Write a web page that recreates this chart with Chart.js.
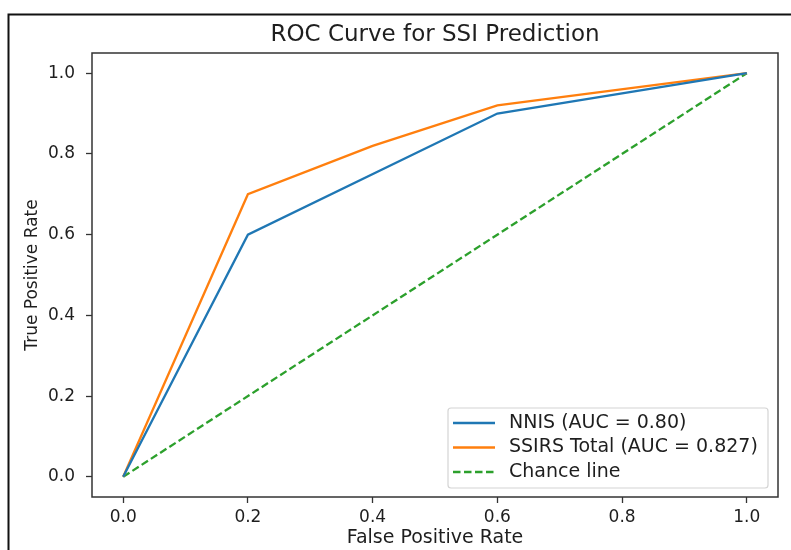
<!DOCTYPE html>
<html>
<head>
<meta charset="utf-8">
<script src="https://cdn.jsdelivr.net/npm/chart.js@4.4.1/dist/chart.umd.min.js"></script>
<style>
  html, body { margin: 0; padding: 0; background: #fff; }
  #wrap { position: relative; width: 791px; height: 550px; }
</style>
</head>
<body>
<div id="wrap"><canvas id="c" width="791" height="550"></canvas></div>
<script>
const titleText = "ROC Curve for SSI Prediction";
const xAxisLabel = "False Positive Rate";
const yAxisLabel = "True Positive Rate";
const tickValues = [0.0, 0.2, 0.4, 0.6, 0.8, 1.0];

const nnisFpr = [0.0, 0.2, 0.6, 1.0];
const nnisTpr = [0.0, 0.6, 0.9, 1.0];
const ssirsFpr = [0.0, 0.2, 0.4, 0.6, 1.0];
const ssirsTpr = [0.0, 0.7, 0.82, 0.92, 1.0];
const chanceFpr = [0.0, 1.0];
const chanceTpr = [0.0, 1.0];

const seriesLabels = ["NNIS (AUC = 0.80)", "SSIRS Total (AUC = 0.827)", "Chance line"];
const seriesColors = ["#1f77b4", "#ff7f0e", "#2ca02c"];

const FONT = "'DejaVu Sans', sans-serif";
const TEXT = "#1e1e1e";

function pts(xs, ys) { return xs.map((x, i) => ({ x: x, y: ys[i] })); }

const framePlugin = {
  id: 'frame',
  beforeDraw(chart) {
    const ctx = chart.ctx;
    ctx.save();
    ctx.fillStyle = '#fff';
    ctx.fillRect(0, 0, chart.width, chart.height);
    ctx.strokeStyle = '#111';
    ctx.lineWidth = 2;
    ctx.beginPath();
    ctx.moveTo(8.5, 550);
    ctx.lineTo(8.5, 14.5);
    ctx.lineTo(791, 14.5);
    ctx.stroke();
    const a = chart.chartArea;
    ctx.fillStyle = TEXT;
    ctx.font = "23px " + FONT;
    ctx.textAlign = 'center';
    ctx.textBaseline = 'middle';
    ctx.fillText(titleText, (a.left + a.right) / 2, 35);
    ctx.restore();
  },
  afterDatasetsDraw(chart) {
    const ctx = chart.ctx;
    const a = chart.chartArea;
    ctx.save();
    ctx.strokeStyle = '#333';
    ctx.lineWidth = 1.5;
    ctx.strokeRect(a.left, a.top, a.right - a.left, a.bottom - a.top);
    const lx = 448, ly = 408, lw = 320, lh = 80;
    ctx.fillStyle = 'rgba(255,255,255,0.85)';
    ctx.strokeStyle = '#d4d4d4';
    ctx.lineWidth = 1.2;
    ctx.beginPath();
    if (ctx.roundRect) ctx.roundRect(lx, ly, lw, lh, 3); else ctx.rect(lx, ly, lw, lh);
    ctx.fill();
    ctx.stroke();
    ctx.font = "19px " + FONT;
    ctx.textAlign = 'left';
    ctx.textBaseline = 'middle';
    chart.data.datasets.forEach((ds, i) => {
      const y = 423 + i * 24.5;
      ctx.strokeStyle = ds.borderColor;
      ctx.lineWidth = 2.3;
      ctx.setLineDash(ds.borderDash || []);
      ctx.beginPath();
      ctx.moveTo(453, y);
      ctx.lineTo(495, y);
      ctx.stroke();
      ctx.setLineDash([]);
      ctx.fillStyle = TEXT;
      ctx.fillText(ds.label, 509, y);
    });
    ctx.restore();
  }
};

new Chart(document.getElementById('c'), {
  type: 'line',
  data: {
    datasets: [
      { label: seriesLabels[0], data: pts(nnisFpr, nnisTpr), borderColor: seriesColors[0], borderWidth: 2.3, pointRadius: 0, fill: false, tension: 0 },
      { label: seriesLabels[1], data: pts(ssirsFpr, ssirsTpr), borderColor: seriesColors[1], borderWidth: 2.3, pointRadius: 0, fill: false, tension: 0 },
      { label: seriesLabels[2], data: pts(chanceFpr, chanceTpr), borderColor: seriesColors[2], borderWidth: 2.3, borderDash: [7.5, 3.5], pointRadius: 0, fill: false, tension: 0 }
    ]
  },
  options: {
    responsive: false,
    animation: false,
    devicePixelRatio: 1,
    layout: { padding: { left: 0, right: 13, top: 53, bottom: 0 } },
    plugins: { legend: { display: false }, title: { display: false }, tooltip: { enabled: false } },
    scales: {
      x: {
        type: 'linear', min: -0.05, max: 1.05,
        afterBuildTicks(s) { s.ticks = tickValues.map(v => ({ value: v })); },
        afterFit(s) { s.height = 53; },
        border: { display: false },
        grid: { display: true, drawOnChartArea: false, drawTicks: true, tickLength: 6, color: '#333', tickWidth: 1.3 },
        ticks: { color: TEXT, font: { family: FONT, size: 17 }, padding: 4, maxRotation: 0, callback: v => Number(v).toFixed(1) },
        title: { display: true, text: xAxisLabel, color: TEXT, font: { family: FONT, size: 19 }, padding: { top: 0, bottom: 0.5 } }
      },
      y: {
        type: 'linear', min: -0.05, max: 1.05,
        afterBuildTicks(s) { s.ticks = tickValues.map(v => ({ value: v })); },
        afterFit(s) { s.width = 92; },
        border: { display: false },
        grid: { display: true, drawOnChartArea: false, drawTicks: true, tickLength: 6, color: '#333', tickWidth: 1.3 },
        ticks: { color: TEXT, font: { family: FONT, size: 17 }, padding: 11, callback: v => Number(v).toFixed(1) },
        title: { display: true, text: yAxisLabel, color: TEXT, font: { family: FONT, size: 17 }, padding: { top: 22, bottom: 0 } }
      }
    }
  },
  plugins: [framePlugin]
});
</script>
</body>
</html>
